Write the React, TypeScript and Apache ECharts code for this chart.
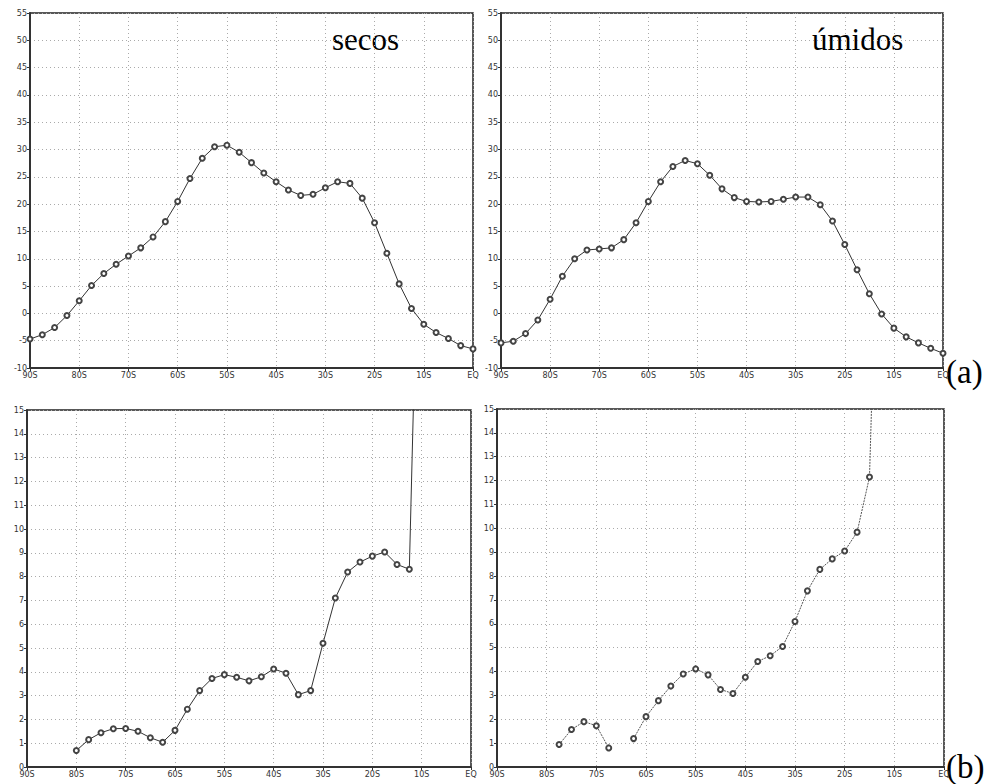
import React, { useEffect, useRef } from "react";
import * as echarts from "echarts";

const latitudes = [
  -90, -87.5, -85, -82.5, -80, -77.5, -75, -72.5, -70, -67.5, -65, -62.5, -60,
  -57.5, -55, -52.5, -50, -47.5, -45, -42.5, -40, -37.5, -35, -32.5, -30,
  -27.5, -25, -22.5, -20, -17.5, -15, -12.5, -10, -7.5, -5, -2.5, 0,
];

const secosTop = [
  -4.7, -3.9, -2.6, -0.4, 2.3, 5.1, 7.3, 9.0, 10.5, 12.0, 14.0, 16.8, 20.5,
  24.7, 28.4, 30.5, 30.8, 29.5, 27.6, 25.7, 24.1, 22.6, 21.6, 21.8, 23.0, 24.1,
  23.8, 21.1, 16.6, 11.0, 5.4, 0.9, -2.0, -3.5, -4.6, -5.9, -6.5,
];

const umidosTop = [
  -5.4, -5.1, -3.7, -1.2, 2.6, 6.8, 10.0, 11.6, 11.8, 12.0, 13.5, 16.6, 20.5,
  24.1, 26.9, 28.0, 27.4, 25.3, 22.8, 21.2, 20.5, 20.4, 20.5, 20.9, 21.3, 21.3,
  19.9, 16.9, 12.6, 8.0, 3.6, -0.1, -2.7, -4.3, -5.4, -6.4, -7.3,
];

const secosBottom = [
  null, null, null, null, 0.69, 1.15, 1.44, 1.61, 1.62, 1.5, 1.23, 1.04, 1.54,
  2.43, 3.21, 3.72, 3.88, 3.77, 3.62, 3.79, 4.12, 3.94, 3.04, 3.21, 5.2, 7.1,
  8.19, 8.61, 8.86, 9.03, 8.51, 8.31, 29, null, null, null, null,
];

const umidosBottom = [
  null, null, null, null, null, 0.94, 1.57, 1.9, 1.73, 0.8, null, 1.19, 2.11,
  2.78, 3.39, 3.9, 4.11, 3.86, 3.25, 3.08, 3.76, 4.42, 4.66, 5.05, 6.1, 7.38,
  8.28, 8.72, 9.05, 9.84, 12.15, 30, null, null, null, null, null,
];

const panelTitles = ["secos", "úmidos"];
const panelTags = ["(a)", "(b)"];

function pairs(vals: (number | null)[]) {
  return latitudes.map((lat, i) => [lat, vals[i] === null ? "-" : vals[i]]);
}

const latLabel = (v: number) => (v === 0 ? "EQ" : `${-v}S`);

export default function App() {
  const ref = useRef<HTMLDivElement>(null);
  useEffect(() => {
    if (!ref.current) return;
    const chart = echarts.init(ref.current, null, { renderer: "svg" });

    const grids = [
      { left: 30, top: 13, width: 443, height: 355 },
      { left: 501, top: 13, width: 442, height: 355 },
      { left: 27, top: 410, width: 444, height: 357 },
      { left: 497, top: 409, width: 447, height: 358 },
    ];

    const axisFont = { fontSize: 8, color: "#333", fontFamily: "DejaVu Sans" };

    const xAxes = grids.map((_, i) => ({
      type: "value",
      gridIndex: i,
      min: -90,
      max: 0,
      interval: 10,
      axisLine: { show: true, onZero: false, lineStyle: { color: "#333", width: 2 } },
      axisTick: { show: true, length: 3, lineStyle: { color: "#333" } },
      axisLabel: { ...axisFont, margin: 3, formatter: latLabel, showMaxLabel: true, showMinLabel: true },
      splitLine: { show: true, lineStyle: { color: "#aaa", type: [1, 3], width: 1 } },
    }));

    const yAxes = grids.map((_, i) => {
      const top = i < 2;
      return {
        type: "value",
        gridIndex: i,
        min: top ? -10 : 0,
        max: top ? 55 : 15,
        interval: top ? 5 : 1,
        axisLine: { show: true, onZero: false, lineStyle: { color: "#333", width: 2 } },
        axisTick: { show: true, length: 3, lineStyle: { color: "#333" } },
        axisLabel: { ...axisFont, margin: 3 },
        splitLine: { show: true, lineStyle: { color: "#aaa", type: [1, 3], width: 1 } },
      };
    });

    const seriesData = [secosTop, umidosTop, secosBottom, umidosBottom];

    const series = seriesData.map((vals, i) => ({
      type: "line",
      xAxisIndex: i,
      yAxisIndex: i,
      data: pairs(vals),
      connectNulls: false,
      clip: true,
      symbol: "emptyCircle",
      symbolSize: 5,
      lineStyle: {
        color: i === 3 ? "#555" : "#333",
        width: 1,
        type: i === 3 ? [2, 1] : "solid",
      },
      itemStyle: { color: "#444", borderColor: "#444", borderWidth: 0.8 },
    }));

    const serif = "Liberation Serif";
    const textStyle = (text: string, size: number) => ({
      text,
      fontFamily: serif,
      fontSize: size,
      fill: "#000",
    });

    chart.setOption({
      animation: false,
      backgroundColor: "#fff",
      grid: grids.map((g) => ({
        ...g,
        show: true,
        borderColor: "#222",
        borderWidth: 1.5,
        backgroundColor: "transparent",
        containLabel: false,
      })),
      xAxis: xAxes,
      yAxis: yAxes,
      series,
      graphic: [
        { type: "text", left: 332, top: 24, style: textStyle(panelTitles[0], 31) },
        { type: "text", left: 812, top: 24, style: textStyle(panelTitles[1], 31) },
        { type: "text", left: 946, top: 355, style: textStyle(panelTags[0], 33) },
        { type: "text", left: 946, top: 750, style: textStyle(panelTags[1], 33) },
      ],
    });

    return () => chart.dispose();
  }, []);

  return (
    <div
      ref={ref}
      style={{ position: "absolute", left: 0, top: 0, width: 986, height: 784, background: "#fff" }}
    />
  );
}
